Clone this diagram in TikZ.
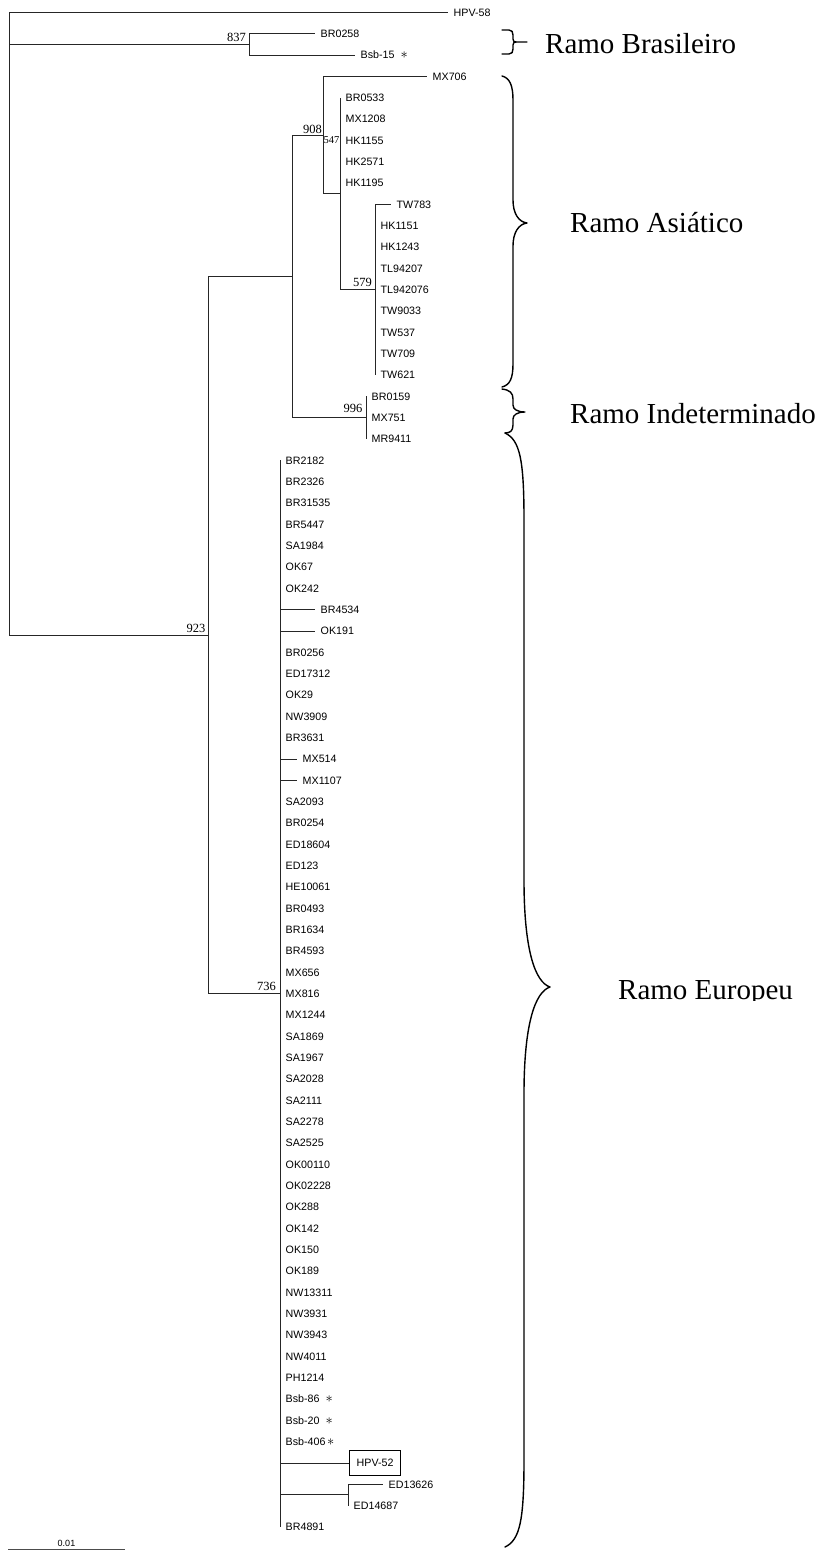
\documentclass[tikz,border=0pt]{standalone}
\usepackage{fontspec}
\newfontfamily\leaffont{Liberation Sans}
\newfontfamily\numfont{Liberation Serif}
\tikzset{
  br/.style={line width=0.85pt, draw=black!85},
  leaf/.style={anchor=west, inner sep=0pt, text height=7.6pt, text depth=0pt,
    font=\leaffont\fontsize{10.7}{12}\selectfont},
  boot/.style={inner sep=0pt, text depth=0pt, font=\numfont\fontsize{12.5}{14}\selectfont},
  clade/.style={anchor=base west, inner sep=0pt, font=\numfont\fontsize{29}{32}\selectfont},
  bracepath/.style={line width=1.4pt, line cap=round, line join=round},
  refbox/.style={draw, line width=1.3pt, anchor=west, minimum width=51pt, minimum height=25pt,
    inner sep=0pt, font=\leaffont\fontsize{10.7}{12}\selectfont}
}
% marker for the Brasília samples
\newcommand\bsbmark{{\fontsize{14}{14}\selectfont$\ast$}}
% a branch from a parent to a leaf tip at (x, row), with the leaf's name
\newcommand\twig[5]{%
  \coordinate (#1) at (#3,{12.5+21.33*#4});
  \draw[br] (#2) |- (#1);
  \node[leaf] (#1-t) at ([xshift=5.5pt]#1) {#5};}
\begin{document}
\begin{tikzpicture}[x=1pt,y=-1pt]
\useasboundingbox (0,0) rectangle (818,1550);

% internal nodes of the tree
\coordinate (root) at (9,12.5);
\coordinate (nBR)  at (249,44.5);
\coordinate (n923) at (208,635.07);
\coordinate (n908) at (292,276.46);
\coordinate (nX)   at (323,135.15);
\coordinate (n547) at (340,193.8);
\coordinate (n579) at (375,289.79);
\coordinate (n996) at (366,417.77);
\coordinate (nEU)  at (280,993.68);
\coordinate (nED)  at (348,1494.9);

% backbone
\draw[br] (root) |- (nBR);
\draw[br] (root) |- (n923);
\draw[br] (n923) |- (n908);
\draw[br] (n923) |- (nEU);
\draw[br] (n908) |- (nX);
\draw[br] (n908) |- (n996);
\draw[br] (nX) |- (n547);
\draw[br] (n547) |- (n579);
\draw[br] (nEU) |- (nED);

% outgroup and Brazilian lineage
\twig{hpv58}{root}{448}{0}{HPV-58}
\twig{br0258}{nBR}{315}{1}{BR0258}
\twig{bsb15}{nBR}{355}{2}{Bsb-15\hspace{6pt}\bsbmark}

% Asian lineage
\twig{mx706}{nX}{427}{3}{MX706}
\foreach \nm/\r in {BR0533/4, MX1208/5, HK1155/6, HK2571/7, HK1195/8}
  {\twig{a\r}{n547}{340}{\r}{\nm}}
\twig{tw783}{n579}{391}{9}{TW783}
\foreach \nm/\r in {HK1151/10, HK1243/11, TL94207/12, TL942076/13, TW9033/14, TW537/15, TW709/16, TW621/17}
  {\twig{b\r}{n579}{375}{\r}{\nm}}

% undetermined lineage
\foreach \nm/\r in {BR0159/18, MX751/19, MR9411/20}
  {\twig{c\r}{n996}{366}{\r}{\nm}}

% European lineage
\foreach \nm/\r/\tx in {BR2182/21/280, BR2326/22/280, BR31535/23/280, BR5447/24/280,
    SA1984/25/280, OK67/26/280, OK242/27/280, BR4534/28/315, OK191/29/315,
    BR0256/30/280, ED17312/31/280, OK29/32/280, NW3909/33/280, BR3631/34/280,
    MX514/35/297, MX1107/36/297, SA2093/37/280, BR0254/38/280, ED18604/39/280,
    ED123/40/280, HE10061/41/280, BR0493/42/280, BR1634/43/280, BR4593/44/280,
    MX656/45/280, MX816/46/280, MX1244/47/280, SA1869/48/280, SA1967/49/280,
    SA2028/50/280, SA2111/51/280, SA2278/52/280, SA2525/53/280, OK00110/54/280,
    OK02228/55/280, OK288/56/280, OK142/57/280, OK150/58/280, OK189/59/280,
    NW13311/60/280, NW3931/61/280, NW3943/62/280, NW4011/63/280, PH1214/64/280}
  {\twig{e\r}{nEU}{\tx}{\r}{\nm}}
\twig{e65}{nEU}{280}{65}{Bsb-86\hspace{6pt}\bsbmark}
\twig{e66}{nEU}{280}{66}{Bsb-20\hspace{6pt}\bsbmark}
\twig{e67}{nEU}{280}{67}{Bsb-406\hspace{1.5pt}\bsbmark}
\coordinate (hpv52) at (349,{12.5+21.33*68});
\draw[br] (nEU) |- (hpv52);
\node[refbox] (hpv52-t) at (hpv52) {HPV-52};
\twig{ed13626}{nED}{383}{69}{ED13626}
\twig{ed14687}{nED}{348}{70}{ED14687}
\twig{br4891}{nEU}{280}{71}{BR4891}

% bootstrap values
\node[boot, anchor=south east] (b837) at (246,42) {837};
\node[boot, anchor=south east] (b908) at (322,133.5) {908};
\node[boot, anchor=north east, font=\numfont\fontsize{10.5}{12}\selectfont] (b547) at (339.5,136) {547};
\node[boot, anchor=south east] (b579) at (372,287) {579};
\node[boot, anchor=south east] (b996) at (362.5,413) {996};
\node[boot, anchor=south east] (b923) at (205.5,633) {923};
\node[boot, anchor=south east] (b736) at (276,991) {736};

% braces grouping the lineages
\draw[bracepath] (502,30) -- (509,30) .. controls (512,30) and (513,32) .. (513,35)
  -- (513,39) .. controls (513,41) and (514,42) .. (516,42) -- (527,42);
\draw[bracepath] (502,54) -- (509,54) .. controls (512,54) and (513,52) .. (513,49)
  -- (513,45) .. controls (513,43) and (514,42) .. (516,42);
\draw[bracepath] (502,76) .. controls (510,78) and (513,86) .. (513,100)
  -- (513,200) .. controls (513,214) and (519,222) .. (527,223)
  .. controls (519,224) and (513,232) .. (513,246)
  -- (513,364) .. controls (513,378) and (510,385) .. (502,387);
\draw[bracepath] (502,389) .. controls (510,390) and (513,393) .. (513,399)
  -- (513,405) .. controls (513,409) and (517,412) .. (525,412)
  .. controls (517,412) and (513,415) .. (513,419)
  -- (513,425) .. controls (513,431) and (510,433) .. (505,433);
\draw[bracepath] (505,433) .. controls (520,440) and (524,460) .. (524,520)
  -- (524,880) .. controls (524,950) and (535,982) .. (550,987)
  .. controls (535,992) and (524,1024) .. (524,1094)
  -- (524,1460) .. controls (524,1520) and (520,1540) .. (505,1547);

% lineage names
\node[clade] (rbr) at (545,53) {Ramo Brasileiro};
\node[clade] (ras) at (570,232) {Ramo Asiático};
\node[clade] (rin) at (570,423) {Ramo Indeterminado};
\begin{scope}
  \clip (600,950) rectangle (818,1000.5);
  \node[clade] (reu) at (618,999) {Ramo Europeu};
\end{scope}

% scale bar
\coordinate (sb0) at (8,1549);
\coordinate (sb1) at (125,1549);
\draw[line width=0.8pt, draw=black!70] (sb0) -- (sb1);
\node[anchor=base, inner sep=0pt, font=\leaffont\fontsize{9}{10}\selectfont] (sbl) at (66.5,1546.5) {0.01};
\end{tikzpicture}
\end{document}
